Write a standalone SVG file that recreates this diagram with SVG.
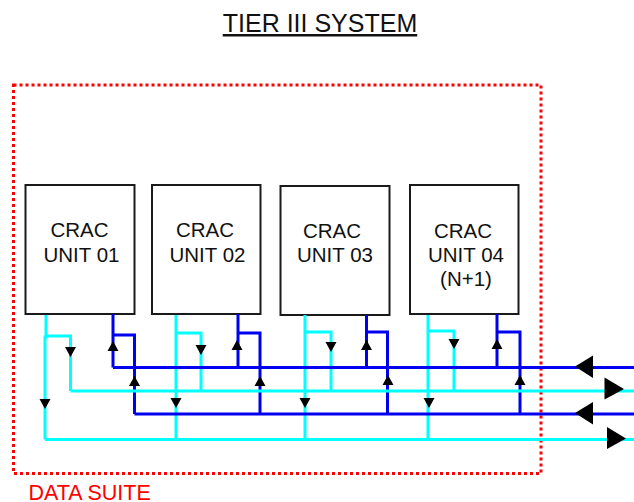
<svg xmlns="http://www.w3.org/2000/svg" width="634" height="502" viewBox="0 0 634 502">
<style>
text{font-family:"Liberation Sans",Arial,sans-serif;fill:#111}
.t{font-size:20.500px;text-anchor:middle}
.box{fill:#fff;stroke:#1a1a1a;stroke-width:2}
.c{fill:none;stroke:#00ffff;stroke-width:3}
.b{fill:none;stroke:#0000f0;stroke-width:3}
.a{fill:#000}
</style>
<rect width="634" height="502" fill="#fff"/>
<text id="title" x="320" y="32" font-size="25" text-anchor="middle" text-decoration="underline">TIER III SYSTEM</text>
<g id="data-suite">
<rect x="13.5" y="85" width="527.5" height="388.5" fill="none" stroke="#ff0000" stroke-width="3" stroke-dasharray="3 3"/>
<text x="28.500" y="500" font-size="21.500" style="fill:#ff0000">DATA SUITE</text>
</g>
<g id="unit-01"><rect class="box" x="25.5" y="185" width="109" height="129"/><text class="t" x="79.500" y="237">CRAC</text><text class="t" x="81.500" y="261.500">UNIT 01</text></g>
<g id="unit-02"><rect class="box" x="152" y="185" width="108.500" height="129"/><text class="t" x="205" y="237">CRAC</text><text class="t" x="207.500" y="261.500">UNIT 02</text></g>
<g id="unit-03"><rect class="box" x="280.500" y="186" width="109" height="129"/><text class="t" x="332" y="237.500">CRAC</text><text class="t" x="335" y="262">UNIT 03</text></g>
<g id="unit-04"><rect class="box" x="410" y="185" width="108.500" height="129"/><text class="t" x="463" y="237.500">CRAC</text><text class="t" x="466" y="262">UNIT 04</text><text class="t" x="466" y="286">(N+1)</text></g>
<g id="connectors">
<path class="b" d="M113 314V367.500M113 335H134.500V414M238 314V367.500M238 333H260V414M366.500 315V367.500M366.500 332H387.500V414M497 314V367.500M497 332H520V414"/>
<path class="c" d="M46 315V337H45V439.500M46 336H70.500V391M176 315V439.500M176 333H201V390M305 315V439.500M305 332H331V390M428 315V439.500M428 331H454V390"/>
<path class="c" d="M70.500 391H634M45 439.500H634"/>
<path class="b" d="M113 367.500H634M134.500 414H634"/>
<g class="a">
<path d="M65 347H76L70.500 357ZM39.500 399H50.500L45 409ZM170.500 398H181.500L176 408ZM195.500 345H206.500L201 355ZM299.500 398H310.500L305 408ZM325.500 342H336.500L331 352ZM423.500 398H434.500L429 408ZM448.500 339H459.500L454 349Z"/>
<path d="M113 341L118.500 351H107.500ZM134.500 376L140 386H129ZM237 340L242.500 350H231.500ZM260 376L265.500 386H254.500ZM366.500 340L372 350H361ZM388 375L393.500 385H382.500ZM497 339L502.500 349H491.500ZM520 375L525.500 385H514.500Z"/>
<path d="M575 366.500L593 355.500V378ZM575 413L593 402V424.500ZM624 389L604.500 377.500V399.500ZM626 438.500L607 427V449Z"/>
</g>
</g>
</svg>
